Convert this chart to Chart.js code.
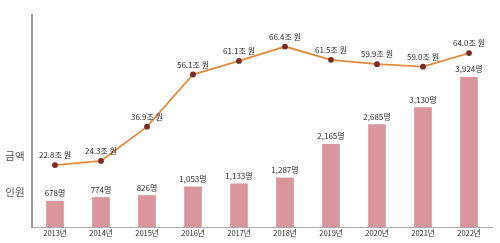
<!DOCTYPE html>
<html><head><meta charset="utf-8">
<script src="https://cdn.jsdelivr.net/npm/chart.js@4/dist/chart.umd.min.js"></script>
<style>html,body{margin:0;padding:0;background:#fff}#wrap{width:500px;height:243px}</style>
</head><body><div id="wrap"><canvas id="c" width="500" height="243"></canvas></div>
<script>
const categories = ['2013년','2014년','2015년','2016년','2017년','2018년','2019년','2020년','2021년','2022년'];
const amounts = [22.8, 24.3, 36.9, 56.1, 61.1, 66.4, 61.5, 59.9, 59.0, 64.0];
const people = [678, 774, 826, 1053, 1133, 1287, 2165, 2685, 3130, 3924];
const amountLabels = amounts.map(v => v.toFixed(1) + '조 원');
const peopleLabels = people.map(v => v.toLocaleString('en-US') + '명');
const FONT = "'Noto Sans CJK KR', 'Noto Sans', sans-serif";

const labelPlugin = {
  id: 'labels',
  afterDatasetsDraw(chart) {
    const ctx = chart.ctx;
    ctx.save();
    ctx.font = '8px ' + FONT;
    ctx.fillStyle = '#2a2a2a';
    ctx.textAlign = 'center';
    ctx.textBaseline = 'middle';
    chart.getDatasetMeta(1).data.forEach((p, i) => {
      ctx.fillText(amountLabels[i], p.x, p.y - 10);
    });
    chart.getDatasetMeta(0).data.forEach((b, i) => {
      ctx.fillText(peopleLabels[i], b.x, b.y - 8);
    });
    ctx.font = '10.5px ' + FONT;
    ctx.fillStyle = '#555';
    ctx.fillText('금액', 15, 156);
    ctx.fillText('인원', 15, 192);
    ctx.restore();
  }
};

new Chart(document.getElementById('c'), {
  data: {
    labels: categories,
    datasets: [
      { type: 'bar', data: people, yAxisID: 'y', backgroundColor: '#D9959A', barThickness: 17, order: 2 },
      { type: 'line', data: amounts, yAxisID: 'y2', borderColor: '#E38B3C', borderWidth: 1.8,
        pointRadius: 2, pointBackgroundColor: '#7A2A22', pointBorderColor: '#7A2A22', tension: 0, order: 1 }
    ]
  },
  options: {
    responsive: false,
    animation: false,
    devicePixelRatio: 1,
    plugins: { legend: { display: false }, tooltip: { enabled: false } },
    layout: { padding: { left: 32, right: 8, top: 15, bottom: 3 } },
    scales: {
      x: {
        grid: { display: false, drawTicks: false },
        border: { display: true, color: '#aaa', width: 1 },
        ticks: { font: { family: FONT, size: 7.5 }, color: '#2a2a2a', padding: 2, maxRotation: 0 }
      },
      y: {
        min: 0, max: 5560,
        grid: { display: false, drawTicks: false },
        border: { display: true, color: '#999', width: 2 },
        ticks: { display: false }
      },
      y2: {
        min: 0, max: 78, display: false
      }
    }
  },
  plugins: [labelPlugin]
});
</script>
</body></html>
